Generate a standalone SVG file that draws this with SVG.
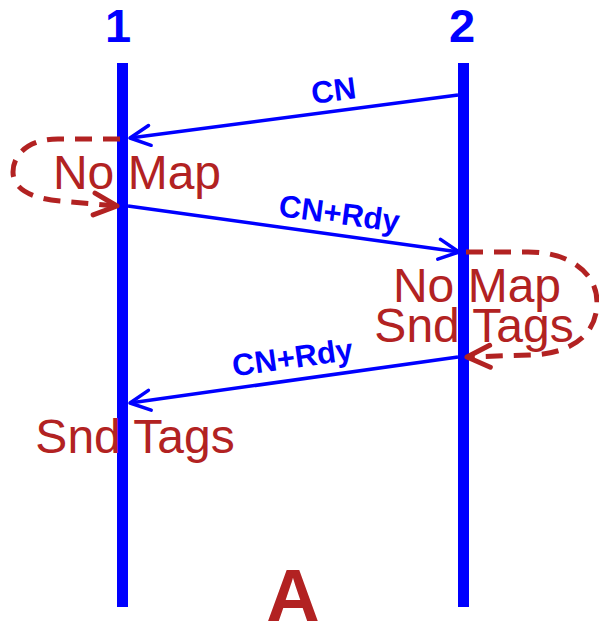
<svg xmlns="http://www.w3.org/2000/svg" width="599" height="624" viewBox="0 0 599 624">
<style>
.life{stroke:#0000ff;stroke-width:11;fill:none}
.msg{stroke:#0000ff;stroke-width:3.5;fill:none}
.loop{stroke:#b22222;stroke-width:5;fill:none;stroke-dasharray:17 11}
.hd{font-family:"Liberation Sans",Arial,sans-serif;font-weight:bold;fill:#0000ff;font-size:47px;text-anchor:middle}
.ml{font-family:"Liberation Sans",Arial,sans-serif;font-weight:bold;fill:#0000ff;font-size:31px;text-anchor:middle}
.st{font-family:"Liberation Sans",Arial,sans-serif;fill:#b22222;font-size:48px;text-anchor:middle}
</style>
<defs>
<marker id="ab" markerUnits="userSpaceOnUse" markerWidth="30" markerHeight="30" viewBox="-25 -15 30 30" refX="0" refY="0" orient="auto">
<path d="M-20,-10 L0,0 L-20,10" fill="none" stroke="#0000ff" stroke-width="3.5" stroke-linecap="round" stroke-linejoin="round"/>
</marker>
<marker id="ar" markerUnits="userSpaceOnUse" markerWidth="34" markerHeight="34" viewBox="-27 -17 34 34" refX="0" refY="0" orient="auto">
<path d="M-23,-11 L0,0 L-23,11" fill="none" stroke="#b22222" stroke-width="5" stroke-linecap="round" stroke-linejoin="round"/>
</marker>
</defs>
<g id="lifeline1">
<line class="life" x1="122.5" y1="63" x2="122.5" y2="607"/>
<text class="hd" x="118" y="42">1</text>
</g>
<g id="lifeline2">
<line class="life" x1="463.5" y1="63" x2="463.5" y2="607"/>
<text class="hd" x="462" y="42">2</text>
</g>
<g id="connectors">
<line class="msg" x1="458" y1="95" x2="130" y2="138" marker-end="url(#ab)"/>
<line class="msg" x1="128" y1="206" x2="459" y2="252" marker-end="url(#ab)"/>
<line class="msg" x1="458" y1="357" x2="130" y2="403" marker-end="url(#ab)"/>
<path class="loop" d="M120,139 H58 C28,139 13,155 13,172 C13,192 38,199 60,201 L117,206" marker-end="url(#ar)"/>
<path class="loop" d="M466,252 H528 C572,252 597,275 597,302 C597,336 570,354 530,355 L467,357" marker-end="url(#ar)"/>
</g>
<g id="labels">
<text class="ml" transform="translate(335,101) rotate(-7.5)">CN</text>
<text class="ml" transform="translate(338,224) rotate(7.5)">CN+Rdy</text>
<text class="ml" transform="translate(294,368) rotate(-8)">CN+Rdy</text>
</g>
<g id="state1">
<text class="st" x="137" y="189">No Map</text>
</g>
<g id="state2">
<text class="st" x="477" y="302">No Map</text>
<text class="st" x="474" y="342">Snd Tags</text>
</g>
<g id="state3">
<text class="st" x="135" y="453">Snd Tags</text>
</g>
<g id="caption">
<text x="293" y="621" font-family="Liberation Sans,Arial,sans-serif" font-weight="bold" font-size="74" fill="#b22222" text-anchor="middle">A</text>
</g>
</svg>
